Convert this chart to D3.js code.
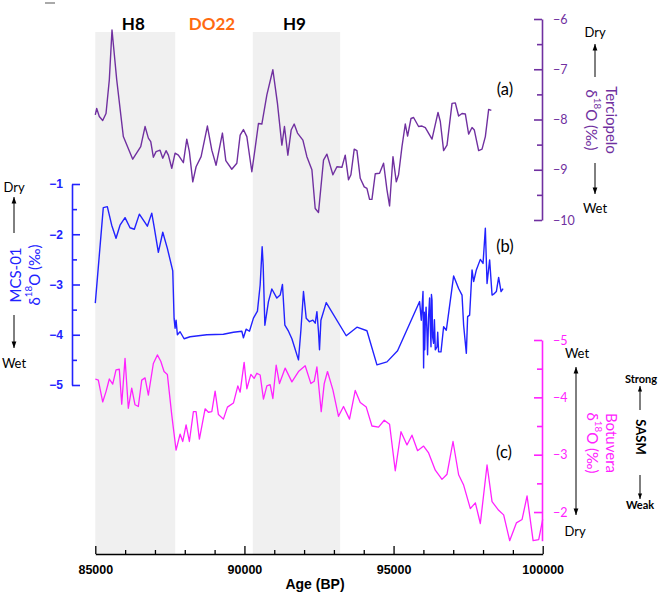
<!DOCTYPE html>
<html><head><meta charset="utf-8">
<script src="https://cdn.jsdelivr.net/npm/d3@7"></script>
<style>html,body{margin:0;padding:0;background:#fff;}svg{display:block;}</style>
</head><body>
<svg id="c" width="660" height="594"></svg>
<script>
// ---------- data ----------
const eventLabels = ["H8", "DO22", "H9"];
const eventStart  = [85000, 87680, 90280];
const eventEnd    = [87680, 90280, 93210];
const eventShaded = [true, false, true];

const xTicks = [85000, 90000, 95000, 100000];
const xMinorTicks = [86000, 87000, 88000, 89000, 91000, 92000, 93000, 94000, 96000, 97000, 98000, 99000];
const terciopeloTicks = [-6, -7, -8, -9, -10];
const mcsTicks = [-1, -2, -3, -4, -5];
const botuveraTicks = [-5, -4, -3, -2];

// (a) Terciopelo δ18O
const terciopeloAge = [85000,85047,85134,85248,85359,85470,85560,85718,85940,86255,86523,86668,86779,86859,86946,87037,87171,87262,87372,87450,87564,87675,87785,87953,88067,88154,88268,88379,88547,88758,88906,89050,89262,89376,89577,89745,89856,89966,90081,90248,90359,90470,90584,90752,90953,91107,91255,91342,91456,91567,91668,91779,91960,92094,92262,92373,92483,92651,92765,92966,93101,93268,93379,93490,93570,93681,93772,93883,94017,94107,94195,94275,94386,94530,94665,94779,94866,94980,95091,95168,95282,95393,95470,95584,95671,95839,95953,96064,96289,96490,96567,96678,96792,96960,97070,97181,97295,97406,97517,97631,97708,97852,97966,98077,98188,98278];
const terciopeloD18O = [-7.91,-7.78,-7.94,-8.02,-7.88,-7.21,-6.22,-7.21,-8.34,-8.79,-8.54,-8.14,-8.37,-8.44,-8.75,-8.64,-8.61,-8.77,-8.62,-8.71,-8.97,-8.67,-8.71,-8.86,-8.39,-8.64,-9.24,-8.94,-8.74,-8.13,-8.61,-8.91,-8.27,-8.82,-8.99,-8.87,-8.31,-8.20,-8.34,-9.04,-8.57,-8.08,-8.09,-7.51,-7.01,-7.68,-8.51,-8.14,-8.71,-8.21,-8.09,-8.27,-8.41,-8.74,-9.00,-9.77,-9.85,-8.81,-8.69,-9.10,-8.94,-8.95,-8.71,-9.20,-9.10,-8.59,-8.62,-9.17,-9.34,-9.37,-9.59,-9.59,-9.08,-9.07,-8.87,-9.40,-9.72,-8.74,-9.24,-9.10,-8.54,-8.09,-8.33,-7.98,-7.96,-8.14,-8.13,-8.16,-8.39,-7.86,-8.04,-8.62,-8.51,-7.68,-7.67,-7.93,-7.88,-7.89,-8.29,-8.16,-8.21,-8.62,-8.59,-8.34,-7.80,-7.82];

// (b) MCS-01 δ18O
const mcsAge = [85000,85268,85403,85550,85695,85829,85997,86164,86309,86477,86634,86745,86893,86980,87114,87262,87416,87597,87641,87675,87708,87752,87842,87977,88178,88738,89295,89631,89913,89966,90057,90168,90302,90436,90527,90594,90628,90685,90805,90919,91087,91198,91275,91356,91477,91591,91812,91893,91980,92071,92181,92295,92373,92430,92483,92517,92564,92742,93413,93772,94107,94443,94779,95134,95873,95930,95987,96007,96030,96045,96064,96090,96121,96140,96175,96208,96230,96255,96270,96289,96310,96342,96370,96399,96456,96480,96510,96590,96678,96768,96846,97014,97181,97295,97349,97440,97483,97550,97631,97685,97775,97909,98000,98077,98134,98221,98302,98379,98446,98523,98604,98671];
const mcsD18O = [-3.37,-1.47,-1.45,-1.82,-2.08,-1.82,-1.67,-1.87,-1.90,-1.60,-1.74,-1.84,-1.58,-1.88,-2.36,-1.96,-2.28,-2.73,-3.67,-3.87,-3.71,-4.00,-3.94,-4.08,-4.04,-4.00,-3.99,-3.95,-3.93,-4.06,-3.89,-3.93,-3.67,-3.53,-3.01,-2.25,-2.61,-3.81,-3.34,-3.09,-3.27,-3.21,-3.00,-3.81,-3.93,-4.08,-4.50,-3.91,-3.14,-3.67,-3.74,-3.71,-3.77,-3.54,-3.94,-4.30,-3.71,-3.36,-4.02,-3.85,-3.92,-4.60,-4.54,-4.32,-3.34,-3.71,-3.14,-4.66,-3.55,-4.30,-3.77,-3.45,-3.97,-4.40,-3.64,-3.27,-3.80,-4.24,-3.20,-3.31,-4.05,-4.17,-3.70,-4.30,-4.24,-3.95,-4.34,-4.34,-3.84,-3.91,-3.57,-2.83,-3.08,-3.21,-3.81,-4.37,-3.64,-3.61,-2.71,-2.94,-2.71,-2.50,-2.58,-1.88,-2.98,-2.51,-3.21,-3.18,-3.14,-2.86,-3.14,-3.08];

// (c) Botuvera δ18O
const botuveraAge = [85000,85101,85248,85359,85470,85584,85695,85805,85886,85997,86107,86221,86332,86443,86557,86668,86779,86946,87081,87195,87305,87416,87564,87708,87842,87933,88044,88154,88289,88379,88490,88681,88792,88906,89017,89128,89295,89430,89631,89779,89856,89990,90081,90215,90325,90416,90527,90638,90752,90862,90953,91064,91175,91366,91591,91812,92037,92228,92339,92430,92574,92675,92785,92966,93154,93322,93523,93715,93883,94084,94275,94497,94688,94866,95057,95248,95450,95617,95805,96007,96175,96399,96624,96792,96993,97181,97349,97574,97742,97909,98134,98302,98524,98691,98893,99117,99309,99476,99678,99866,100000];
const botuveraD18O = [-4.32,-4.30,-3.92,-4.10,-4.32,-4.23,-4.48,-4.49,-3.88,-4.68,-3.81,-4.16,-3.87,-3.84,-4.30,-4.34,-4.04,-4.59,-4.74,-4.63,-4.45,-4.40,-3.69,-3.08,-3.36,-3.23,-3.52,-3.23,-3.75,-3.75,-3.27,-3.80,-3.74,-3.75,-4.11,-3.70,-3.62,-3.83,-3.90,-4.20,-4.09,-4.61,-4.15,-4.40,-4.33,-4.42,-4.39,-3.97,-4.20,-4.22,-3.98,-4.56,-4.24,-4.51,-4.27,-4.45,-4.55,-4.24,-4.28,-4.53,-3.75,-4.24,-4.45,-4.13,-3.67,-3.84,-3.62,-4.12,-3.91,-3.83,-3.50,-3.48,-3.60,-3.53,-2.72,-3.40,-3.17,-3.34,-3.07,-3.15,-3.03,-2.73,-2.57,-2.66,-3.23,-2.65,-2.47,-2.06,-2.16,-1.80,-2.82,-2.18,-2.03,-1.95,-1.50,-1.81,-1.87,-2.28,-1.50,-1.52,-1.87];

// ---------- drawing ----------
const PURPLE = "#7030A0", BLUE = "#2222FF", PINK = "#FF22FF", ORANGE = "#FF6A10";
const svg = d3.select("#c");

const x  = d3.scaleLinear().domain([85000, 100000]).range([95.3, 542.7]);
const yA = d3.scaleLinear().domain([-6, -10]).range([19, 220]);
const yB = d3.scaleLinear().domain([-1, -5]).range([184, 385]);
const yC = d3.scaleLinear().domain([-5, -1.5]).range([340, 540.7]);
const plotTop = 32, plotBottom = 554;

// tiny grey mark top-left
svg.append("line").attr("x1", 45).attr("x2", 55).attr("y1", 3).attr("y2", 3)
  .attr("stroke", "#aaa").attr("stroke-width", 2);

// shaded event bands
eventLabels.forEach((lab, i) => {
  if (eventShaded[i]) {
    svg.append("rect").attr("x", x(eventStart[i])).attr("y", plotTop)
      .attr("width", x(eventEnd[i]) - x(eventStart[i])).attr("height", plotBottom - plotTop)
      .attr("fill", "#F0F0F0");
  }
  svg.append("text").attr("x", x((eventStart[i] + eventEnd[i]) / 2) - 2).attr("y", 30)
    .attr("text-anchor", "middle").attr("font-family", "Lato").attr("font-weight", "bold")
    .attr("font-size", 17).attr("fill", lab === "DO22" ? ORANGE : "#000").text(lab);
});

function series(ages, vals, y, color, w) {
  const line = d3.line().x(d => x(d[0])).y(d => y(d[1]));
  svg.append("path").datum(d3.zip(ages, vals)).attr("d", line)
    .attr("fill", "none").attr("stroke", color).attr("stroke-width", w).attr("stroke-linejoin", "round");
}
series(terciopeloAge, terciopeloD18O, yA, PURPLE, 1.4);
series(mcsAge, mcsD18O, yB, BLUE, 1.4);
series(botuveraAge, botuveraD18O, yC, PINK, 1.3);

// x axis
const gx = svg.append("g").attr("transform", `translate(0,${plotBottom})`);
gx.call(d3.axisBottom(x).tickValues(xTicks).tickFormat(d3.format("d")).tickSize(-8).tickSizeOuter(0).tickPadding(11));
const gxm = svg.append("g").attr("transform", `translate(0,${plotBottom})`);
gxm.call(d3.axisBottom(x).tickValues(xMinorTicks).tickFormat("").tickSize(-4).tickSizeOuter(0));
gxm.select(".domain").remove();
[gx, gxm].forEach(g => { g.selectAll("line,path").attr("stroke", "#000").attr("stroke-width", 1.3); });
gx.selectAll("text").attr("font-family", "Liberation Sans").attr("font-weight", "bold")
  .attr("font-size", 12.5).attr("fill", "#000");
svg.append("text").attr("x", 315).attr("y", 589).attr("text-anchor", "middle")
  .attr("font-family", "Liberation Sans").attr("font-weight", "bold").attr("font-size", 14).text("Age (BP)");

function minorOf(ticks) {
  const m = [];
  for (let i = 0; i < ticks.length - 1; i++) m.push((ticks[i] + ticks[i + 1]) / 2);
  return m;
}

// right axes
function rightAxis(y, ticks, color, xpos) {
  const g = svg.append("g").attr("transform", `translate(${xpos},0)`);
  g.call(d3.axisRight(y).tickValues(ticks).tickFormat(d3.format("d")).tickSize(-8).tickSizeOuter(0).tickPadding(11));
  const gm = svg.append("g").attr("transform", `translate(${xpos},0)`);
  gm.call(d3.axisRight(y).tickValues(minorOf(ticks)).tickFormat("").tickSize(-5).tickSizeOuter(0));
  gm.select(".domain").remove();
  [g, gm].forEach(gg => gg.selectAll("line,path").attr("stroke", color).attr("stroke-width", 1.6));
  g.selectAll("text").attr("font-family", "Lato").attr("font-size", 12.5).attr("fill", color);
  return g;
}
rightAxis(yA, terciopeloTicks, PURPLE, 542);
rightAxis(yC, botuveraTicks, PINK, 542);

// blue left axis
const gb = svg.append("g").attr("transform", "translate(72,0)");
gb.call(d3.axisLeft(yB).tickValues(mcsTicks).tickFormat(d3.format("d")).tickSize(-8).tickSizeOuter(0).tickPadding(9));
const gbm = svg.append("g").attr("transform", "translate(72,0)");
gbm.call(d3.axisLeft(yB).tickValues(minorOf(mcsTicks)).tickFormat("").tickSize(-5).tickSizeOuter(0));
gbm.select(".domain").remove();
[gb, gbm].forEach(g => g.selectAll("line,path").attr("stroke", BLUE).attr("stroke-width", 1.6));
gb.selectAll("text").attr("font-family", "Liberation Sans").attr("font-weight", "bold")
  .attr("font-size", 12).attr("fill", BLUE);

// rotated titles
function rotTitle(cy, angle, lines, color) {
  lines.forEach(ln => {
    const t = svg.append("text").attr("transform", `translate(${ln.x},${cy}) rotate(${angle})`)
      .attr("text-anchor", "middle").attr("dominant-baseline", "central")
      .attr("font-family", "Lato").attr("font-size", 15).attr("fill", color);
    if (ln.delta) {
      t.append("tspan").text("δ");
      t.append("tspan").attr("font-size", "65%").attr("baseline-shift", "super").text("18");
      t.append("tspan").text("O (‰)");
    } else t.text(ln.text);
  });
}
rotTitle(120, 90, [{x: 612, text: "Terciopelo"}, {x: 592, delta: true}], PURPLE);
rotTitle(443, 90, [{x: 612, text: "Botuvera"}, {x: 593, delta: true}], PINK);
rotTitle(275, -90, [{x: 15, text: "MCS-01"}, {x: 34, delta: true}], BLUE);

// SASM label
svg.append("text").attr("transform", "translate(641,437) rotate(90)").attr("text-anchor", "middle")
  .attr("dominant-baseline", "central").attr("font-family", "Lato").attr("font-weight", "bold")
  .attr("font-size", 13).text("SASM");

// arrows
function arrow(ax, y1, y2, head2, head1, size) {
  size = size || 4;
  svg.append("line").attr("x1", ax).attr("x2", ax).attr("y1", y1).attr("y2", y2)
    .attr("stroke", "#000").attr("stroke-width", 1);
  const head = (yy, dir) => svg.append("path")
    .attr("d", `M${ax},${yy} L${ax - size * 0.6},${yy - dir * size * 1.6} L${ax + size * 0.6},${yy - dir * size * 1.6} Z`)
    .attr("fill", "#000");
  if (head2) head(y2, y2 > y1 ? 1 : -1);
  if (head1) head(y1, y1 > y2 ? 1 : -1);
}
function label(tx, ty, s, size, bold) {
  svg.append("text").attr("x", tx).attr("y", ty).attr("text-anchor", "middle").attr("dominant-baseline", "central")
    .attr("font-family", "Lato").attr("font-size", size).attr("font-weight", bold ? "bold" : "normal")
    .attr("fill", "#000").text(s);
}
// left (MCS)
label(14, 187, "Dry", 13); arrow(14, 233, 197, true); label(14, 363, "Wet", 13); arrow(14, 315, 348, true);
// purple
label(595, 32, "Dry", 13); arrow(595, 77, 44, true); label(595, 208, "Wet", 13); arrow(595, 163, 194, true);
// pink
label(577, 353, "Wet", 13); arrow(576, 367, 515, true, true); label(575, 531, "Dry", 13);
// SASM
label(641, 378, "Strong", 11, true); arrow(640, 410, 386, true, false, 3.5);
label(640, 504, "Weak", 11, true); arrow(640, 475, 499, true, false, 3.5);

// panel letters
[["(a)", 505, 89], ["(b)", 505, 246], ["(c)", 504, 452]].forEach(d => label(d[1], d[2], d[0], 16.5));
</script>
</body></html>
